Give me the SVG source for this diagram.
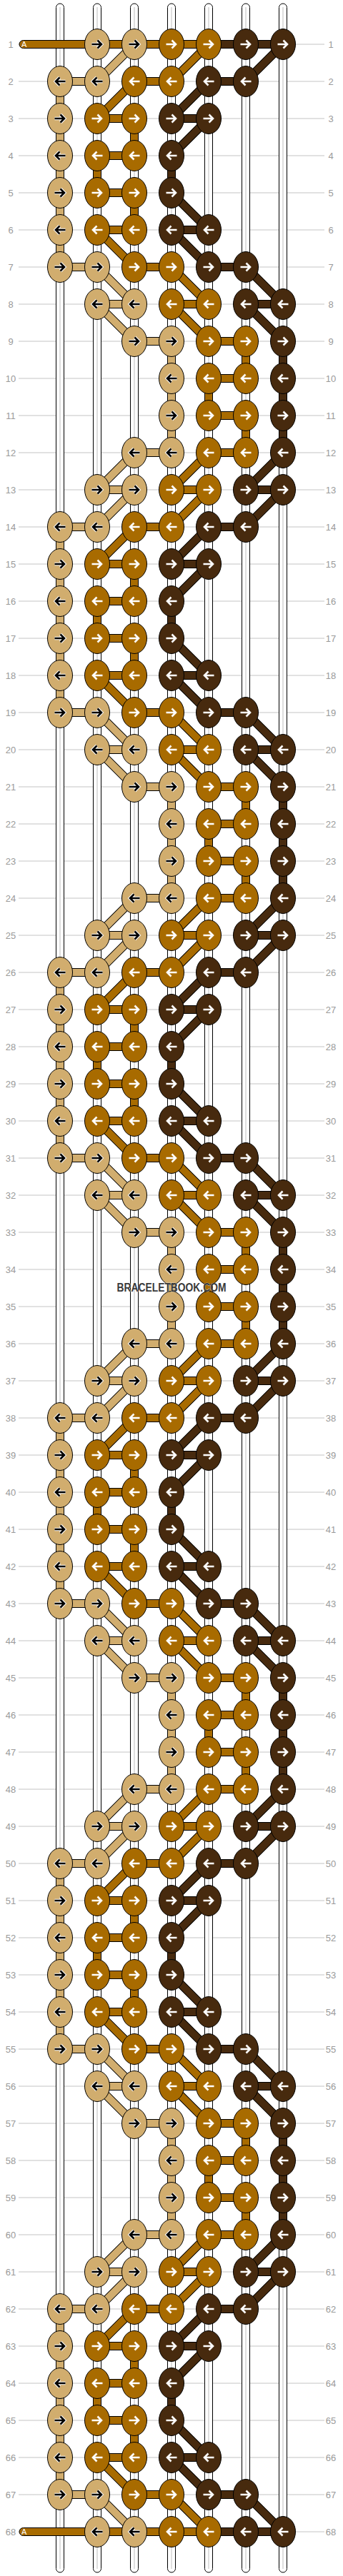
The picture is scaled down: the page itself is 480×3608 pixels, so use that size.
<svg xmlns="http://www.w3.org/2000/svg" width="480" height="3608" viewBox="0 0 480 3608">
<style>
.t{fill:#D1AD6E}.o{fill:#A86B00}.d{fill:#472A0E}
.lb{font-family:"Liberation Sans",Arial,sans-serif;font-size:13px;fill:#9a9a9a;text-anchor:middle}
</style>
<defs>
<path id="ar" d="M-7.5,0H5.5M0.5,-5.5L6,0L0.5,5.5"/>
<path id="al" d="M7.5,0H-5.5M-0.5,-5.5L-6,0L-0.5,5.5"/>
<g id="TR"><ellipse rx="17.5" ry="21.5" fill="#D1AD6E" stroke="#000"/><use href="#ar" fill="none" stroke="#fff" stroke-width="4.6"/><use href="#ar" fill="none" stroke="#000" stroke-width="2.6"/></g>
<g id="TL"><ellipse rx="17.5" ry="21.5" fill="#D1AD6E" stroke="#000"/><use href="#al" fill="none" stroke="#fff" stroke-width="4.6"/><use href="#al" fill="none" stroke="#000" stroke-width="2.6"/></g>
<g id="OR"><ellipse rx="17.5" ry="21.5" fill="#A86B00" stroke="#000"/><use href="#ar" fill="none" stroke="#fff" stroke-width="2.6"/></g>
<g id="OL"><ellipse rx="17.5" ry="21.5" fill="#A86B00" stroke="#000"/><use href="#al" fill="none" stroke="#fff" stroke-width="2.6"/></g>
<g id="DR"><ellipse rx="17.5" ry="21.5" fill="#472A0E" stroke="#000"/><use href="#ar" fill="none" stroke="#fff" stroke-width="2.6"/></g>
<g id="DL"><ellipse rx="17.5" ry="21.5" fill="#472A0E" stroke="#000"/><use href="#al" fill="none" stroke="#fff" stroke-width="2.6"/></g>
<rect id="h" y="-5.5" width="52" height="11"/>
<rect id="v" x="-5.5" width="11" height="52"/>
<rect id="dr" y="-5.5" width="73.5" height="11" transform="rotate(45)"/>
<rect id="dl" y="-5.5" width="73.5" height="11" transform="rotate(135)"/>
</defs>
<rect width="480" height="3608" fill="#fff"/>
<path id="rowlines" stroke="#c4c4c4" stroke-width="1" fill="none" d="M26,62H454M26,114H454M26,166H454M26,218H454M26,270H454M26,322H454M26,374H454M26,426H454M26,478H454M26,530H454M26,582H454M26,634H454M26,686H454M26,738H454M26,790H454M26,842H454M26,894H454M26,946H454M26,998H454M26,1050H454M26,1102H454M26,1154H454M26,1206H454M26,1258H454M26,1310H454M26,1362H454M26,1414H454M26,1466H454M26,1518H454M26,1570H454M26,1622H454M26,1674H454M26,1726H454M26,1778H454M26,1830H454M26,1882H454M26,1934H454M26,1986H454M26,2038H454M26,2090H454M26,2142H454M26,2194H454M26,2246H454M26,2298H454M26,2350H454M26,2402H454M26,2454H454M26,2506H454M26,2558H454M26,2610H454M26,2662H454M26,2714H454M26,2766H454M26,2818H454M26,2870H454M26,2922H454M26,2974H454M26,3026H454M26,3078H454M26,3130H454M26,3182H454M26,3234H454M26,3286H454M26,3338H454M26,3390H454M26,3442H454M26,3494H454M26,3546H454"/>
<g id="strings">
<g fill="#fff" stroke="#000">
<rect x="78.5" y="5" width="11" height="3598" rx="5.5"/>
<rect x="130.5" y="5" width="11" height="3598" rx="5.5"/>
<rect x="182.5" y="5" width="11" height="3598" rx="5.5"/>
<rect x="234.5" y="5" width="11" height="3598" rx="5.5"/>
<rect x="286.5" y="5" width="11" height="3598" rx="5.5"/>
<rect x="338.5" y="5" width="11" height="3598" rx="5.5"/>
<rect x="390.5" y="5" width="11" height="3598" rx="5.5"/>
</g>
<path stroke="#c8c8c8" stroke-width="1.2" d="M84,10V3598M136,10V3598M188,10V3598M240,10V3598M292,10V3598M344,10V3598M396,10V3598"/>
</g>
<g id="connectors" stroke="#000" stroke-width="1">
<rect x="27" y="56.5" width="109" height="11" rx="5.5" class="o"/>
<rect x="27" y="3540.5" width="109" height="11" rx="5.5" class="o"/>
<use href="#h" x="136" y="62" class="o"/><use href="#h" x="188" y="62" class="o"/><use href="#h" x="240" y="62" class="o"/><use href="#h" x="292" y="62" class="d"/><use href="#h" x="344" y="62" class="d"/><use href="#dl" x="188" y="62" class="t"/><use href="#dl" x="292" y="62" class="o"/><use href="#dl" x="396" y="62" class="d"/>
<use href="#h" x="84" y="114" class="t"/><use href="#h" x="188" y="114" class="o"/><use href="#h" x="292" y="114" class="d"/><use href="#v" x="84" y="114" class="t"/><use href="#dl" x="188" y="114" class="o"/><use href="#dl" x="292" y="114" class="d"/>
<use href="#h" x="136" y="166" class="o"/><use href="#h" x="240" y="166" class="d"/><use href="#v" x="84" y="166" class="t"/><use href="#v" x="188" y="166" class="o"/><use href="#dl" x="292" y="166" class="d"/>
<use href="#h" x="136" y="218" class="o"/><use href="#v" x="84" y="218" class="t"/><use href="#v" x="136" y="218" class="o"/><use href="#v" x="240" y="218" class="d"/>
<use href="#h" x="136" y="270" class="o"/><use href="#v" x="84" y="270" class="t"/><use href="#v" x="188" y="270" class="o"/><use href="#dr" x="240" y="270" class="d"/>
<use href="#h" x="136" y="322" class="o"/><use href="#h" x="240" y="322" class="d"/><use href="#v" x="84" y="322" class="t"/><use href="#dr" x="136" y="322" class="o"/><use href="#dr" x="240" y="322" class="d"/>
<use href="#h" x="84" y="374" class="t"/><use href="#h" x="188" y="374" class="o"/><use href="#h" x="292" y="374" class="d"/><use href="#dr" x="136" y="374" class="t"/><use href="#dr" x="240" y="374" class="o"/><use href="#dr" x="344" y="374" class="d"/>
<use href="#h" x="136" y="426" class="t"/><use href="#h" x="240" y="426" class="o"/><use href="#h" x="344" y="426" class="d"/><use href="#dr" x="136" y="426" class="t"/><use href="#dr" x="240" y="426" class="o"/><use href="#dr" x="344" y="426" class="d"/>
<use href="#h" x="188" y="478" class="t"/><use href="#h" x="292" y="478" class="o"/><use href="#v" x="240" y="478" class="t"/><use href="#v" x="344" y="478" class="o"/><use href="#v" x="396" y="478" class="d"/>
<use href="#h" x="292" y="530" class="o"/><use href="#v" x="240" y="530" class="t"/><use href="#v" x="292" y="530" class="o"/><use href="#v" x="396" y="530" class="d"/>
<use href="#h" x="292" y="582" class="o"/><use href="#v" x="240" y="582" class="t"/><use href="#v" x="344" y="582" class="o"/><use href="#v" x="396" y="582" class="d"/>
<use href="#h" x="188" y="634" class="t"/><use href="#h" x="292" y="634" class="o"/><use href="#dl" x="188" y="634" class="t"/><use href="#dl" x="292" y="634" class="o"/><use href="#dl" x="396" y="634" class="d"/>
<use href="#h" x="136" y="686" class="t"/><use href="#h" x="240" y="686" class="o"/><use href="#h" x="344" y="686" class="d"/><use href="#dl" x="188" y="686" class="t"/><use href="#dl" x="292" y="686" class="o"/><use href="#dl" x="396" y="686" class="d"/>
<use href="#h" x="84" y="738" class="t"/><use href="#h" x="188" y="738" class="o"/><use href="#h" x="292" y="738" class="d"/><use href="#v" x="84" y="738" class="t"/><use href="#dl" x="188" y="738" class="o"/><use href="#dl" x="292" y="738" class="d"/>
<use href="#h" x="136" y="790" class="o"/><use href="#h" x="240" y="790" class="d"/><use href="#v" x="84" y="790" class="t"/><use href="#v" x="188" y="790" class="o"/><use href="#dl" x="292" y="790" class="d"/>
<use href="#h" x="136" y="842" class="o"/><use href="#v" x="84" y="842" class="t"/><use href="#v" x="136" y="842" class="o"/><use href="#v" x="240" y="842" class="d"/>
<use href="#h" x="136" y="894" class="o"/><use href="#v" x="84" y="894" class="t"/><use href="#v" x="188" y="894" class="o"/><use href="#dr" x="240" y="894" class="d"/>
<use href="#h" x="136" y="946" class="o"/><use href="#h" x="240" y="946" class="d"/><use href="#v" x="84" y="946" class="t"/><use href="#dr" x="136" y="946" class="o"/><use href="#dr" x="240" y="946" class="d"/>
<use href="#h" x="84" y="998" class="t"/><use href="#h" x="188" y="998" class="o"/><use href="#h" x="292" y="998" class="d"/><use href="#dr" x="136" y="998" class="t"/><use href="#dr" x="240" y="998" class="o"/><use href="#dr" x="344" y="998" class="d"/>
<use href="#h" x="136" y="1050" class="t"/><use href="#h" x="240" y="1050" class="o"/><use href="#h" x="344" y="1050" class="d"/><use href="#dr" x="136" y="1050" class="t"/><use href="#dr" x="240" y="1050" class="o"/><use href="#dr" x="344" y="1050" class="d"/>
<use href="#h" x="188" y="1102" class="t"/><use href="#h" x="292" y="1102" class="o"/><use href="#v" x="240" y="1102" class="t"/><use href="#v" x="344" y="1102" class="o"/><use href="#v" x="396" y="1102" class="d"/>
<use href="#h" x="292" y="1154" class="o"/><use href="#v" x="240" y="1154" class="t"/><use href="#v" x="292" y="1154" class="o"/><use href="#v" x="396" y="1154" class="d"/>
<use href="#h" x="292" y="1206" class="o"/><use href="#v" x="240" y="1206" class="t"/><use href="#v" x="344" y="1206" class="o"/><use href="#v" x="396" y="1206" class="d"/>
<use href="#h" x="188" y="1258" class="t"/><use href="#h" x="292" y="1258" class="o"/><use href="#dl" x="188" y="1258" class="t"/><use href="#dl" x="292" y="1258" class="o"/><use href="#dl" x="396" y="1258" class="d"/>
<use href="#h" x="136" y="1310" class="t"/><use href="#h" x="240" y="1310" class="o"/><use href="#h" x="344" y="1310" class="d"/><use href="#dl" x="188" y="1310" class="t"/><use href="#dl" x="292" y="1310" class="o"/><use href="#dl" x="396" y="1310" class="d"/>
<use href="#h" x="84" y="1362" class="t"/><use href="#h" x="188" y="1362" class="o"/><use href="#h" x="292" y="1362" class="d"/><use href="#v" x="84" y="1362" class="t"/><use href="#dl" x="188" y="1362" class="o"/><use href="#dl" x="292" y="1362" class="d"/>
<use href="#h" x="136" y="1414" class="o"/><use href="#h" x="240" y="1414" class="d"/><use href="#v" x="84" y="1414" class="t"/><use href="#v" x="188" y="1414" class="o"/><use href="#dl" x="292" y="1414" class="d"/>
<use href="#h" x="136" y="1466" class="o"/><use href="#v" x="84" y="1466" class="t"/><use href="#v" x="136" y="1466" class="o"/><use href="#v" x="240" y="1466" class="d"/>
<use href="#h" x="136" y="1518" class="o"/><use href="#v" x="84" y="1518" class="t"/><use href="#v" x="188" y="1518" class="o"/><use href="#dr" x="240" y="1518" class="d"/>
<use href="#h" x="136" y="1570" class="o"/><use href="#h" x="240" y="1570" class="d"/><use href="#v" x="84" y="1570" class="t"/><use href="#dr" x="136" y="1570" class="o"/><use href="#dr" x="240" y="1570" class="d"/>
<use href="#h" x="84" y="1622" class="t"/><use href="#h" x="188" y="1622" class="o"/><use href="#h" x="292" y="1622" class="d"/><use href="#dr" x="136" y="1622" class="t"/><use href="#dr" x="240" y="1622" class="o"/><use href="#dr" x="344" y="1622" class="d"/>
<use href="#h" x="136" y="1674" class="t"/><use href="#h" x="240" y="1674" class="o"/><use href="#h" x="344" y="1674" class="d"/><use href="#dr" x="136" y="1674" class="t"/><use href="#dr" x="240" y="1674" class="o"/><use href="#dr" x="344" y="1674" class="d"/>
<use href="#h" x="188" y="1726" class="t"/><use href="#h" x="292" y="1726" class="o"/><use href="#v" x="240" y="1726" class="t"/><use href="#v" x="344" y="1726" class="o"/><use href="#v" x="396" y="1726" class="d"/>
<use href="#h" x="292" y="1778" class="o"/><use href="#v" x="240" y="1778" class="t"/><use href="#v" x="292" y="1778" class="o"/><use href="#v" x="396" y="1778" class="d"/>
<use href="#h" x="292" y="1830" class="o"/><use href="#v" x="240" y="1830" class="t"/><use href="#v" x="344" y="1830" class="o"/><use href="#v" x="396" y="1830" class="d"/>
<use href="#h" x="188" y="1882" class="t"/><use href="#h" x="292" y="1882" class="o"/><use href="#dl" x="188" y="1882" class="t"/><use href="#dl" x="292" y="1882" class="o"/><use href="#dl" x="396" y="1882" class="d"/>
<use href="#h" x="136" y="1934" class="t"/><use href="#h" x="240" y="1934" class="o"/><use href="#h" x="344" y="1934" class="d"/><use href="#dl" x="188" y="1934" class="t"/><use href="#dl" x="292" y="1934" class="o"/><use href="#dl" x="396" y="1934" class="d"/>
<use href="#h" x="84" y="1986" class="t"/><use href="#h" x="188" y="1986" class="o"/><use href="#h" x="292" y="1986" class="d"/><use href="#v" x="84" y="1986" class="t"/><use href="#dl" x="188" y="1986" class="o"/><use href="#dl" x="292" y="1986" class="d"/>
<use href="#h" x="136" y="2038" class="o"/><use href="#h" x="240" y="2038" class="d"/><use href="#v" x="84" y="2038" class="t"/><use href="#v" x="188" y="2038" class="o"/><use href="#dl" x="292" y="2038" class="d"/>
<use href="#h" x="136" y="2090" class="o"/><use href="#v" x="84" y="2090" class="t"/><use href="#v" x="136" y="2090" class="o"/><use href="#v" x="240" y="2090" class="d"/>
<use href="#h" x="136" y="2142" class="o"/><use href="#v" x="84" y="2142" class="t"/><use href="#v" x="188" y="2142" class="o"/><use href="#dr" x="240" y="2142" class="d"/>
<use href="#h" x="136" y="2194" class="o"/><use href="#h" x="240" y="2194" class="d"/><use href="#v" x="84" y="2194" class="t"/><use href="#dr" x="136" y="2194" class="o"/><use href="#dr" x="240" y="2194" class="d"/>
<use href="#h" x="84" y="2246" class="t"/><use href="#h" x="188" y="2246" class="o"/><use href="#h" x="292" y="2246" class="d"/><use href="#dr" x="136" y="2246" class="t"/><use href="#dr" x="240" y="2246" class="o"/><use href="#dr" x="344" y="2246" class="d"/>
<use href="#h" x="136" y="2298" class="t"/><use href="#h" x="240" y="2298" class="o"/><use href="#h" x="344" y="2298" class="d"/><use href="#dr" x="136" y="2298" class="t"/><use href="#dr" x="240" y="2298" class="o"/><use href="#dr" x="344" y="2298" class="d"/>
<use href="#h" x="188" y="2350" class="t"/><use href="#h" x="292" y="2350" class="o"/><use href="#v" x="240" y="2350" class="t"/><use href="#v" x="344" y="2350" class="o"/><use href="#v" x="396" y="2350" class="d"/>
<use href="#h" x="292" y="2402" class="o"/><use href="#v" x="240" y="2402" class="t"/><use href="#v" x="292" y="2402" class="o"/><use href="#v" x="396" y="2402" class="d"/>
<use href="#h" x="292" y="2454" class="o"/><use href="#v" x="240" y="2454" class="t"/><use href="#v" x="344" y="2454" class="o"/><use href="#v" x="396" y="2454" class="d"/>
<use href="#h" x="188" y="2506" class="t"/><use href="#h" x="292" y="2506" class="o"/><use href="#dl" x="188" y="2506" class="t"/><use href="#dl" x="292" y="2506" class="o"/><use href="#dl" x="396" y="2506" class="d"/>
<use href="#h" x="136" y="2558" class="t"/><use href="#h" x="240" y="2558" class="o"/><use href="#h" x="344" y="2558" class="d"/><use href="#dl" x="188" y="2558" class="t"/><use href="#dl" x="292" y="2558" class="o"/><use href="#dl" x="396" y="2558" class="d"/>
<use href="#h" x="84" y="2610" class="t"/><use href="#h" x="188" y="2610" class="o"/><use href="#h" x="292" y="2610" class="d"/><use href="#v" x="84" y="2610" class="t"/><use href="#dl" x="188" y="2610" class="o"/><use href="#dl" x="292" y="2610" class="d"/>
<use href="#h" x="136" y="2662" class="o"/><use href="#h" x="240" y="2662" class="d"/><use href="#v" x="84" y="2662" class="t"/><use href="#v" x="188" y="2662" class="o"/><use href="#dl" x="292" y="2662" class="d"/>
<use href="#h" x="136" y="2714" class="o"/><use href="#v" x="84" y="2714" class="t"/><use href="#v" x="136" y="2714" class="o"/><use href="#v" x="240" y="2714" class="d"/>
<use href="#h" x="136" y="2766" class="o"/><use href="#v" x="84" y="2766" class="t"/><use href="#v" x="188" y="2766" class="o"/><use href="#dr" x="240" y="2766" class="d"/>
<use href="#h" x="136" y="2818" class="o"/><use href="#h" x="240" y="2818" class="d"/><use href="#v" x="84" y="2818" class="t"/><use href="#dr" x="136" y="2818" class="o"/><use href="#dr" x="240" y="2818" class="d"/>
<use href="#h" x="84" y="2870" class="t"/><use href="#h" x="188" y="2870" class="o"/><use href="#h" x="292" y="2870" class="d"/><use href="#dr" x="136" y="2870" class="t"/><use href="#dr" x="240" y="2870" class="o"/><use href="#dr" x="344" y="2870" class="d"/>
<use href="#h" x="136" y="2922" class="t"/><use href="#h" x="240" y="2922" class="o"/><use href="#h" x="344" y="2922" class="d"/><use href="#dr" x="136" y="2922" class="t"/><use href="#dr" x="240" y="2922" class="o"/><use href="#dr" x="344" y="2922" class="d"/>
<use href="#h" x="188" y="2974" class="t"/><use href="#h" x="292" y="2974" class="o"/><use href="#v" x="240" y="2974" class="t"/><use href="#v" x="344" y="2974" class="o"/><use href="#v" x="396" y="2974" class="d"/>
<use href="#h" x="292" y="3026" class="o"/><use href="#v" x="240" y="3026" class="t"/><use href="#v" x="292" y="3026" class="o"/><use href="#v" x="396" y="3026" class="d"/>
<use href="#h" x="292" y="3078" class="o"/><use href="#v" x="240" y="3078" class="t"/><use href="#v" x="344" y="3078" class="o"/><use href="#v" x="396" y="3078" class="d"/>
<use href="#h" x="188" y="3130" class="t"/><use href="#h" x="292" y="3130" class="o"/><use href="#dl" x="188" y="3130" class="t"/><use href="#dl" x="292" y="3130" class="o"/><use href="#dl" x="396" y="3130" class="d"/>
<use href="#h" x="136" y="3182" class="t"/><use href="#h" x="240" y="3182" class="o"/><use href="#h" x="344" y="3182" class="d"/><use href="#dl" x="188" y="3182" class="t"/><use href="#dl" x="292" y="3182" class="o"/><use href="#dl" x="396" y="3182" class="d"/>
<use href="#h" x="84" y="3234" class="t"/><use href="#h" x="188" y="3234" class="o"/><use href="#h" x="292" y="3234" class="d"/><use href="#v" x="84" y="3234" class="t"/><use href="#dl" x="188" y="3234" class="o"/><use href="#dl" x="292" y="3234" class="d"/>
<use href="#h" x="136" y="3286" class="o"/><use href="#h" x="240" y="3286" class="d"/><use href="#v" x="84" y="3286" class="t"/><use href="#v" x="188" y="3286" class="o"/><use href="#dl" x="292" y="3286" class="d"/>
<use href="#h" x="136" y="3338" class="o"/><use href="#v" x="84" y="3338" class="t"/><use href="#v" x="136" y="3338" class="o"/><use href="#v" x="240" y="3338" class="d"/>
<use href="#h" x="136" y="3390" class="o"/><use href="#v" x="84" y="3390" class="t"/><use href="#v" x="188" y="3390" class="o"/><use href="#dr" x="240" y="3390" class="d"/>
<use href="#h" x="136" y="3442" class="o"/><use href="#h" x="240" y="3442" class="d"/><use href="#v" x="84" y="3442" class="t"/><use href="#dr" x="136" y="3442" class="o"/><use href="#dr" x="240" y="3442" class="d"/>
<use href="#h" x="84" y="3494" class="t"/><use href="#h" x="188" y="3494" class="o"/><use href="#h" x="292" y="3494" class="d"/><use href="#dr" x="136" y="3494" class="t"/><use href="#dr" x="240" y="3494" class="o"/><use href="#dr" x="344" y="3494" class="d"/>
<use href="#h" x="136" y="3546" class="o"/><use href="#h" x="188" y="3546" class="o"/><use href="#h" x="240" y="3546" class="o"/><use href="#h" x="292" y="3546" class="d"/><use href="#h" x="344" y="3546" class="d"/>
</g>
<g id="nodes">
<g id="n1-2"><use href="#TR" x="136" y="62"/></g><g id="n1-3"><use href="#TR" x="188" y="62"/></g><g id="n1-4"><use href="#OR" x="240" y="62"/></g><g id="n1-5"><use href="#OR" x="292" y="62"/></g><g id="n1-6"><use href="#DR" x="344" y="62"/></g><g id="n1-7"><use href="#DR" x="396" y="62"/></g>
<g id="n2-1"><use href="#TL" x="84" y="114"/></g><g id="n2-2"><use href="#TL" x="136" y="114"/></g><g id="n2-3"><use href="#OL" x="188" y="114"/></g><g id="n2-4"><use href="#OL" x="240" y="114"/></g><g id="n2-5"><use href="#DL" x="292" y="114"/></g><g id="n2-6"><use href="#DL" x="344" y="114"/></g>
<g id="n3-1"><use href="#TR" x="84" y="166"/></g><g id="n3-2"><use href="#OR" x="136" y="166"/></g><g id="n3-3"><use href="#OR" x="188" y="166"/></g><g id="n3-4"><use href="#DR" x="240" y="166"/></g><g id="n3-5"><use href="#DR" x="292" y="166"/></g>
<g id="n4-1"><use href="#TL" x="84" y="218"/></g><g id="n4-2"><use href="#OL" x="136" y="218"/></g><g id="n4-3"><use href="#OL" x="188" y="218"/></g><g id="n4-4"><use href="#DL" x="240" y="218"/></g>
<g id="n5-1"><use href="#TR" x="84" y="270"/></g><g id="n5-2"><use href="#OR" x="136" y="270"/></g><g id="n5-3"><use href="#OR" x="188" y="270"/></g><g id="n5-4"><use href="#DR" x="240" y="270"/></g>
<g id="n6-1"><use href="#TL" x="84" y="322"/></g><g id="n6-2"><use href="#OL" x="136" y="322"/></g><g id="n6-3"><use href="#OL" x="188" y="322"/></g><g id="n6-4"><use href="#DL" x="240" y="322"/></g><g id="n6-5"><use href="#DL" x="292" y="322"/></g>
<g id="n7-1"><use href="#TR" x="84" y="374"/></g><g id="n7-2"><use href="#TR" x="136" y="374"/></g><g id="n7-3"><use href="#OR" x="188" y="374"/></g><g id="n7-4"><use href="#OR" x="240" y="374"/></g><g id="n7-5"><use href="#DR" x="292" y="374"/></g><g id="n7-6"><use href="#DR" x="344" y="374"/></g>
<g id="n8-2"><use href="#TL" x="136" y="426"/></g><g id="n8-3"><use href="#TL" x="188" y="426"/></g><g id="n8-4"><use href="#OL" x="240" y="426"/></g><g id="n8-5"><use href="#OL" x="292" y="426"/></g><g id="n8-6"><use href="#DL" x="344" y="426"/></g><g id="n8-7"><use href="#DL" x="396" y="426"/></g>
<g id="n9-3"><use href="#TR" x="188" y="478"/></g><g id="n9-4"><use href="#TR" x="240" y="478"/></g><g id="n9-5"><use href="#OR" x="292" y="478"/></g><g id="n9-6"><use href="#OR" x="344" y="478"/></g><g id="n9-7"><use href="#DR" x="396" y="478"/></g>
<g id="n10-4"><use href="#TL" x="240" y="530"/></g><g id="n10-5"><use href="#OL" x="292" y="530"/></g><g id="n10-6"><use href="#OL" x="344" y="530"/></g><g id="n10-7"><use href="#DL" x="396" y="530"/></g>
<g id="n11-4"><use href="#TR" x="240" y="582"/></g><g id="n11-5"><use href="#OR" x="292" y="582"/></g><g id="n11-6"><use href="#OR" x="344" y="582"/></g><g id="n11-7"><use href="#DR" x="396" y="582"/></g>
<g id="n12-3"><use href="#TL" x="188" y="634"/></g><g id="n12-4"><use href="#TL" x="240" y="634"/></g><g id="n12-5"><use href="#OL" x="292" y="634"/></g><g id="n12-6"><use href="#OL" x="344" y="634"/></g><g id="n12-7"><use href="#DL" x="396" y="634"/></g>
<g id="n13-2"><use href="#TR" x="136" y="686"/></g><g id="n13-3"><use href="#TR" x="188" y="686"/></g><g id="n13-4"><use href="#OR" x="240" y="686"/></g><g id="n13-5"><use href="#OR" x="292" y="686"/></g><g id="n13-6"><use href="#DR" x="344" y="686"/></g><g id="n13-7"><use href="#DR" x="396" y="686"/></g>
<g id="n14-1"><use href="#TL" x="84" y="738"/></g><g id="n14-2"><use href="#TL" x="136" y="738"/></g><g id="n14-3"><use href="#OL" x="188" y="738"/></g><g id="n14-4"><use href="#OL" x="240" y="738"/></g><g id="n14-5"><use href="#DL" x="292" y="738"/></g><g id="n14-6"><use href="#DL" x="344" y="738"/></g>
<g id="n15-1"><use href="#TR" x="84" y="790"/></g><g id="n15-2"><use href="#OR" x="136" y="790"/></g><g id="n15-3"><use href="#OR" x="188" y="790"/></g><g id="n15-4"><use href="#DR" x="240" y="790"/></g><g id="n15-5"><use href="#DR" x="292" y="790"/></g>
<g id="n16-1"><use href="#TL" x="84" y="842"/></g><g id="n16-2"><use href="#OL" x="136" y="842"/></g><g id="n16-3"><use href="#OL" x="188" y="842"/></g><g id="n16-4"><use href="#DL" x="240" y="842"/></g>
<g id="n17-1"><use href="#TR" x="84" y="894"/></g><g id="n17-2"><use href="#OR" x="136" y="894"/></g><g id="n17-3"><use href="#OR" x="188" y="894"/></g><g id="n17-4"><use href="#DR" x="240" y="894"/></g>
<g id="n18-1"><use href="#TL" x="84" y="946"/></g><g id="n18-2"><use href="#OL" x="136" y="946"/></g><g id="n18-3"><use href="#OL" x="188" y="946"/></g><g id="n18-4"><use href="#DL" x="240" y="946"/></g><g id="n18-5"><use href="#DL" x="292" y="946"/></g>
<g id="n19-1"><use href="#TR" x="84" y="998"/></g><g id="n19-2"><use href="#TR" x="136" y="998"/></g><g id="n19-3"><use href="#OR" x="188" y="998"/></g><g id="n19-4"><use href="#OR" x="240" y="998"/></g><g id="n19-5"><use href="#DR" x="292" y="998"/></g><g id="n19-6"><use href="#DR" x="344" y="998"/></g>
<g id="n20-2"><use href="#TL" x="136" y="1050"/></g><g id="n20-3"><use href="#TL" x="188" y="1050"/></g><g id="n20-4"><use href="#OL" x="240" y="1050"/></g><g id="n20-5"><use href="#OL" x="292" y="1050"/></g><g id="n20-6"><use href="#DL" x="344" y="1050"/></g><g id="n20-7"><use href="#DL" x="396" y="1050"/></g>
<g id="n21-3"><use href="#TR" x="188" y="1102"/></g><g id="n21-4"><use href="#TR" x="240" y="1102"/></g><g id="n21-5"><use href="#OR" x="292" y="1102"/></g><g id="n21-6"><use href="#OR" x="344" y="1102"/></g><g id="n21-7"><use href="#DR" x="396" y="1102"/></g>
<g id="n22-4"><use href="#TL" x="240" y="1154"/></g><g id="n22-5"><use href="#OL" x="292" y="1154"/></g><g id="n22-6"><use href="#OL" x="344" y="1154"/></g><g id="n22-7"><use href="#DL" x="396" y="1154"/></g>
<g id="n23-4"><use href="#TR" x="240" y="1206"/></g><g id="n23-5"><use href="#OR" x="292" y="1206"/></g><g id="n23-6"><use href="#OR" x="344" y="1206"/></g><g id="n23-7"><use href="#DR" x="396" y="1206"/></g>
<g id="n24-3"><use href="#TL" x="188" y="1258"/></g><g id="n24-4"><use href="#TL" x="240" y="1258"/></g><g id="n24-5"><use href="#OL" x="292" y="1258"/></g><g id="n24-6"><use href="#OL" x="344" y="1258"/></g><g id="n24-7"><use href="#DL" x="396" y="1258"/></g>
<g id="n25-2"><use href="#TR" x="136" y="1310"/></g><g id="n25-3"><use href="#TR" x="188" y="1310"/></g><g id="n25-4"><use href="#OR" x="240" y="1310"/></g><g id="n25-5"><use href="#OR" x="292" y="1310"/></g><g id="n25-6"><use href="#DR" x="344" y="1310"/></g><g id="n25-7"><use href="#DR" x="396" y="1310"/></g>
<g id="n26-1"><use href="#TL" x="84" y="1362"/></g><g id="n26-2"><use href="#TL" x="136" y="1362"/></g><g id="n26-3"><use href="#OL" x="188" y="1362"/></g><g id="n26-4"><use href="#OL" x="240" y="1362"/></g><g id="n26-5"><use href="#DL" x="292" y="1362"/></g><g id="n26-6"><use href="#DL" x="344" y="1362"/></g>
<g id="n27-1"><use href="#TR" x="84" y="1414"/></g><g id="n27-2"><use href="#OR" x="136" y="1414"/></g><g id="n27-3"><use href="#OR" x="188" y="1414"/></g><g id="n27-4"><use href="#DR" x="240" y="1414"/></g><g id="n27-5"><use href="#DR" x="292" y="1414"/></g>
<g id="n28-1"><use href="#TL" x="84" y="1466"/></g><g id="n28-2"><use href="#OL" x="136" y="1466"/></g><g id="n28-3"><use href="#OL" x="188" y="1466"/></g><g id="n28-4"><use href="#DL" x="240" y="1466"/></g>
<g id="n29-1"><use href="#TR" x="84" y="1518"/></g><g id="n29-2"><use href="#OR" x="136" y="1518"/></g><g id="n29-3"><use href="#OR" x="188" y="1518"/></g><g id="n29-4"><use href="#DR" x="240" y="1518"/></g>
<g id="n30-1"><use href="#TL" x="84" y="1570"/></g><g id="n30-2"><use href="#OL" x="136" y="1570"/></g><g id="n30-3"><use href="#OL" x="188" y="1570"/></g><g id="n30-4"><use href="#DL" x="240" y="1570"/></g><g id="n30-5"><use href="#DL" x="292" y="1570"/></g>
<g id="n31-1"><use href="#TR" x="84" y="1622"/></g><g id="n31-2"><use href="#TR" x="136" y="1622"/></g><g id="n31-3"><use href="#OR" x="188" y="1622"/></g><g id="n31-4"><use href="#OR" x="240" y="1622"/></g><g id="n31-5"><use href="#DR" x="292" y="1622"/></g><g id="n31-6"><use href="#DR" x="344" y="1622"/></g>
<g id="n32-2"><use href="#TL" x="136" y="1674"/></g><g id="n32-3"><use href="#TL" x="188" y="1674"/></g><g id="n32-4"><use href="#OL" x="240" y="1674"/></g><g id="n32-5"><use href="#OL" x="292" y="1674"/></g><g id="n32-6"><use href="#DL" x="344" y="1674"/></g><g id="n32-7"><use href="#DL" x="396" y="1674"/></g>
<g id="n33-3"><use href="#TR" x="188" y="1726"/></g><g id="n33-4"><use href="#TR" x="240" y="1726"/></g><g id="n33-5"><use href="#OR" x="292" y="1726"/></g><g id="n33-6"><use href="#OR" x="344" y="1726"/></g><g id="n33-7"><use href="#DR" x="396" y="1726"/></g>
<g id="n34-4"><use href="#TL" x="240" y="1778"/></g><g id="n34-5"><use href="#OL" x="292" y="1778"/></g><g id="n34-6"><use href="#OL" x="344" y="1778"/></g><g id="n34-7"><use href="#DL" x="396" y="1778"/></g>
<g id="n35-4"><use href="#TR" x="240" y="1830"/></g><g id="n35-5"><use href="#OR" x="292" y="1830"/></g><g id="n35-6"><use href="#OR" x="344" y="1830"/></g><g id="n35-7"><use href="#DR" x="396" y="1830"/></g>
<g id="n36-3"><use href="#TL" x="188" y="1882"/></g><g id="n36-4"><use href="#TL" x="240" y="1882"/></g><g id="n36-5"><use href="#OL" x="292" y="1882"/></g><g id="n36-6"><use href="#OL" x="344" y="1882"/></g><g id="n36-7"><use href="#DL" x="396" y="1882"/></g>
<g id="n37-2"><use href="#TR" x="136" y="1934"/></g><g id="n37-3"><use href="#TR" x="188" y="1934"/></g><g id="n37-4"><use href="#OR" x="240" y="1934"/></g><g id="n37-5"><use href="#OR" x="292" y="1934"/></g><g id="n37-6"><use href="#DR" x="344" y="1934"/></g><g id="n37-7"><use href="#DR" x="396" y="1934"/></g>
<g id="n38-1"><use href="#TL" x="84" y="1986"/></g><g id="n38-2"><use href="#TL" x="136" y="1986"/></g><g id="n38-3"><use href="#OL" x="188" y="1986"/></g><g id="n38-4"><use href="#OL" x="240" y="1986"/></g><g id="n38-5"><use href="#DL" x="292" y="1986"/></g><g id="n38-6"><use href="#DL" x="344" y="1986"/></g>
<g id="n39-1"><use href="#TR" x="84" y="2038"/></g><g id="n39-2"><use href="#OR" x="136" y="2038"/></g><g id="n39-3"><use href="#OR" x="188" y="2038"/></g><g id="n39-4"><use href="#DR" x="240" y="2038"/></g><g id="n39-5"><use href="#DR" x="292" y="2038"/></g>
<g id="n40-1"><use href="#TL" x="84" y="2090"/></g><g id="n40-2"><use href="#OL" x="136" y="2090"/></g><g id="n40-3"><use href="#OL" x="188" y="2090"/></g><g id="n40-4"><use href="#DL" x="240" y="2090"/></g>
<g id="n41-1"><use href="#TR" x="84" y="2142"/></g><g id="n41-2"><use href="#OR" x="136" y="2142"/></g><g id="n41-3"><use href="#OR" x="188" y="2142"/></g><g id="n41-4"><use href="#DR" x="240" y="2142"/></g>
<g id="n42-1"><use href="#TL" x="84" y="2194"/></g><g id="n42-2"><use href="#OL" x="136" y="2194"/></g><g id="n42-3"><use href="#OL" x="188" y="2194"/></g><g id="n42-4"><use href="#DL" x="240" y="2194"/></g><g id="n42-5"><use href="#DL" x="292" y="2194"/></g>
<g id="n43-1"><use href="#TR" x="84" y="2246"/></g><g id="n43-2"><use href="#TR" x="136" y="2246"/></g><g id="n43-3"><use href="#OR" x="188" y="2246"/></g><g id="n43-4"><use href="#OR" x="240" y="2246"/></g><g id="n43-5"><use href="#DR" x="292" y="2246"/></g><g id="n43-6"><use href="#DR" x="344" y="2246"/></g>
<g id="n44-2"><use href="#TL" x="136" y="2298"/></g><g id="n44-3"><use href="#TL" x="188" y="2298"/></g><g id="n44-4"><use href="#OL" x="240" y="2298"/></g><g id="n44-5"><use href="#OL" x="292" y="2298"/></g><g id="n44-6"><use href="#DL" x="344" y="2298"/></g><g id="n44-7"><use href="#DL" x="396" y="2298"/></g>
<g id="n45-3"><use href="#TR" x="188" y="2350"/></g><g id="n45-4"><use href="#TR" x="240" y="2350"/></g><g id="n45-5"><use href="#OR" x="292" y="2350"/></g><g id="n45-6"><use href="#OR" x="344" y="2350"/></g><g id="n45-7"><use href="#DR" x="396" y="2350"/></g>
<g id="n46-4"><use href="#TL" x="240" y="2402"/></g><g id="n46-5"><use href="#OL" x="292" y="2402"/></g><g id="n46-6"><use href="#OL" x="344" y="2402"/></g><g id="n46-7"><use href="#DL" x="396" y="2402"/></g>
<g id="n47-4"><use href="#TR" x="240" y="2454"/></g><g id="n47-5"><use href="#OR" x="292" y="2454"/></g><g id="n47-6"><use href="#OR" x="344" y="2454"/></g><g id="n47-7"><use href="#DR" x="396" y="2454"/></g>
<g id="n48-3"><use href="#TL" x="188" y="2506"/></g><g id="n48-4"><use href="#TL" x="240" y="2506"/></g><g id="n48-5"><use href="#OL" x="292" y="2506"/></g><g id="n48-6"><use href="#OL" x="344" y="2506"/></g><g id="n48-7"><use href="#DL" x="396" y="2506"/></g>
<g id="n49-2"><use href="#TR" x="136" y="2558"/></g><g id="n49-3"><use href="#TR" x="188" y="2558"/></g><g id="n49-4"><use href="#OR" x="240" y="2558"/></g><g id="n49-5"><use href="#OR" x="292" y="2558"/></g><g id="n49-6"><use href="#DR" x="344" y="2558"/></g><g id="n49-7"><use href="#DR" x="396" y="2558"/></g>
<g id="n50-1"><use href="#TL" x="84" y="2610"/></g><g id="n50-2"><use href="#TL" x="136" y="2610"/></g><g id="n50-3"><use href="#OL" x="188" y="2610"/></g><g id="n50-4"><use href="#OL" x="240" y="2610"/></g><g id="n50-5"><use href="#DL" x="292" y="2610"/></g><g id="n50-6"><use href="#DL" x="344" y="2610"/></g>
<g id="n51-1"><use href="#TR" x="84" y="2662"/></g><g id="n51-2"><use href="#OR" x="136" y="2662"/></g><g id="n51-3"><use href="#OR" x="188" y="2662"/></g><g id="n51-4"><use href="#DR" x="240" y="2662"/></g><g id="n51-5"><use href="#DR" x="292" y="2662"/></g>
<g id="n52-1"><use href="#TL" x="84" y="2714"/></g><g id="n52-2"><use href="#OL" x="136" y="2714"/></g><g id="n52-3"><use href="#OL" x="188" y="2714"/></g><g id="n52-4"><use href="#DL" x="240" y="2714"/></g>
<g id="n53-1"><use href="#TR" x="84" y="2766"/></g><g id="n53-2"><use href="#OR" x="136" y="2766"/></g><g id="n53-3"><use href="#OR" x="188" y="2766"/></g><g id="n53-4"><use href="#DR" x="240" y="2766"/></g>
<g id="n54-1"><use href="#TL" x="84" y="2818"/></g><g id="n54-2"><use href="#OL" x="136" y="2818"/></g><g id="n54-3"><use href="#OL" x="188" y="2818"/></g><g id="n54-4"><use href="#DL" x="240" y="2818"/></g><g id="n54-5"><use href="#DL" x="292" y="2818"/></g>
<g id="n55-1"><use href="#TR" x="84" y="2870"/></g><g id="n55-2"><use href="#TR" x="136" y="2870"/></g><g id="n55-3"><use href="#OR" x="188" y="2870"/></g><g id="n55-4"><use href="#OR" x="240" y="2870"/></g><g id="n55-5"><use href="#DR" x="292" y="2870"/></g><g id="n55-6"><use href="#DR" x="344" y="2870"/></g>
<g id="n56-2"><use href="#TL" x="136" y="2922"/></g><g id="n56-3"><use href="#TL" x="188" y="2922"/></g><g id="n56-4"><use href="#OL" x="240" y="2922"/></g><g id="n56-5"><use href="#OL" x="292" y="2922"/></g><g id="n56-6"><use href="#DL" x="344" y="2922"/></g><g id="n56-7"><use href="#DL" x="396" y="2922"/></g>
<g id="n57-3"><use href="#TR" x="188" y="2974"/></g><g id="n57-4"><use href="#TR" x="240" y="2974"/></g><g id="n57-5"><use href="#OR" x="292" y="2974"/></g><g id="n57-6"><use href="#OR" x="344" y="2974"/></g><g id="n57-7"><use href="#DR" x="396" y="2974"/></g>
<g id="n58-4"><use href="#TL" x="240" y="3026"/></g><g id="n58-5"><use href="#OL" x="292" y="3026"/></g><g id="n58-6"><use href="#OL" x="344" y="3026"/></g><g id="n58-7"><use href="#DL" x="396" y="3026"/></g>
<g id="n59-4"><use href="#TR" x="240" y="3078"/></g><g id="n59-5"><use href="#OR" x="292" y="3078"/></g><g id="n59-6"><use href="#OR" x="344" y="3078"/></g><g id="n59-7"><use href="#DR" x="396" y="3078"/></g>
<g id="n60-3"><use href="#TL" x="188" y="3130"/></g><g id="n60-4"><use href="#TL" x="240" y="3130"/></g><g id="n60-5"><use href="#OL" x="292" y="3130"/></g><g id="n60-6"><use href="#OL" x="344" y="3130"/></g><g id="n60-7"><use href="#DL" x="396" y="3130"/></g>
<g id="n61-2"><use href="#TR" x="136" y="3182"/></g><g id="n61-3"><use href="#TR" x="188" y="3182"/></g><g id="n61-4"><use href="#OR" x="240" y="3182"/></g><g id="n61-5"><use href="#OR" x="292" y="3182"/></g><g id="n61-6"><use href="#DR" x="344" y="3182"/></g><g id="n61-7"><use href="#DR" x="396" y="3182"/></g>
<g id="n62-1"><use href="#TL" x="84" y="3234"/></g><g id="n62-2"><use href="#TL" x="136" y="3234"/></g><g id="n62-3"><use href="#OL" x="188" y="3234"/></g><g id="n62-4"><use href="#OL" x="240" y="3234"/></g><g id="n62-5"><use href="#DL" x="292" y="3234"/></g><g id="n62-6"><use href="#DL" x="344" y="3234"/></g>
<g id="n63-1"><use href="#TR" x="84" y="3286"/></g><g id="n63-2"><use href="#OR" x="136" y="3286"/></g><g id="n63-3"><use href="#OR" x="188" y="3286"/></g><g id="n63-4"><use href="#DR" x="240" y="3286"/></g><g id="n63-5"><use href="#DR" x="292" y="3286"/></g>
<g id="n64-1"><use href="#TL" x="84" y="3338"/></g><g id="n64-2"><use href="#OL" x="136" y="3338"/></g><g id="n64-3"><use href="#OL" x="188" y="3338"/></g><g id="n64-4"><use href="#DL" x="240" y="3338"/></g>
<g id="n65-1"><use href="#TR" x="84" y="3390"/></g><g id="n65-2"><use href="#OR" x="136" y="3390"/></g><g id="n65-3"><use href="#OR" x="188" y="3390"/></g><g id="n65-4"><use href="#DR" x="240" y="3390"/></g>
<g id="n66-1"><use href="#TL" x="84" y="3442"/></g><g id="n66-2"><use href="#OL" x="136" y="3442"/></g><g id="n66-3"><use href="#OL" x="188" y="3442"/></g><g id="n66-4"><use href="#DL" x="240" y="3442"/></g><g id="n66-5"><use href="#DL" x="292" y="3442"/></g>
<g id="n67-1"><use href="#TR" x="84" y="3494"/></g><g id="n67-2"><use href="#TR" x="136" y="3494"/></g><g id="n67-3"><use href="#OR" x="188" y="3494"/></g><g id="n67-4"><use href="#OR" x="240" y="3494"/></g><g id="n67-5"><use href="#DR" x="292" y="3494"/></g><g id="n67-6"><use href="#DR" x="344" y="3494"/></g>
<g id="n68-2"><use href="#TL" x="136" y="3546"/></g><g id="n68-3"><use href="#TL" x="188" y="3546"/></g><g id="n68-4"><use href="#OL" x="240" y="3546"/></g><g id="n68-5"><use href="#OL" x="292" y="3546"/></g><g id="n68-6"><use href="#DL" x="344" y="3546"/></g><g id="n68-7"><use href="#DL" x="396" y="3546"/></g>
</g>
<g id="thread-labels" font-family="Liberation Sans, Arial, sans-serif" font-size="11" fill="#fff">
<text x="30" y="66">A</text>
<text x="30" y="3550">A</text>
</g>
<g id="row-labels" class="lb">
<text x="15" y="67">1</text><text x="463" y="67">1</text>
<text x="15" y="119">2</text><text x="463" y="119">2</text>
<text x="15" y="171">3</text><text x="463" y="171">3</text>
<text x="15" y="223">4</text><text x="463" y="223">4</text>
<text x="15" y="275">5</text><text x="463" y="275">5</text>
<text x="15" y="327">6</text><text x="463" y="327">6</text>
<text x="15" y="379">7</text><text x="463" y="379">7</text>
<text x="15" y="431">8</text><text x="463" y="431">8</text>
<text x="15" y="483">9</text><text x="463" y="483">9</text>
<text x="15" y="535">10</text><text x="463" y="535">10</text>
<text x="15" y="587">11</text><text x="463" y="587">11</text>
<text x="15" y="639">12</text><text x="463" y="639">12</text>
<text x="15" y="691">13</text><text x="463" y="691">13</text>
<text x="15" y="743">14</text><text x="463" y="743">14</text>
<text x="15" y="795">15</text><text x="463" y="795">15</text>
<text x="15" y="847">16</text><text x="463" y="847">16</text>
<text x="15" y="899">17</text><text x="463" y="899">17</text>
<text x="15" y="951">18</text><text x="463" y="951">18</text>
<text x="15" y="1003">19</text><text x="463" y="1003">19</text>
<text x="15" y="1055">20</text><text x="463" y="1055">20</text>
<text x="15" y="1107">21</text><text x="463" y="1107">21</text>
<text x="15" y="1159">22</text><text x="463" y="1159">22</text>
<text x="15" y="1211">23</text><text x="463" y="1211">23</text>
<text x="15" y="1263">24</text><text x="463" y="1263">24</text>
<text x="15" y="1315">25</text><text x="463" y="1315">25</text>
<text x="15" y="1367">26</text><text x="463" y="1367">26</text>
<text x="15" y="1419">27</text><text x="463" y="1419">27</text>
<text x="15" y="1471">28</text><text x="463" y="1471">28</text>
<text x="15" y="1523">29</text><text x="463" y="1523">29</text>
<text x="15" y="1575">30</text><text x="463" y="1575">30</text>
<text x="15" y="1627">31</text><text x="463" y="1627">31</text>
<text x="15" y="1679">32</text><text x="463" y="1679">32</text>
<text x="15" y="1731">33</text><text x="463" y="1731">33</text>
<text x="15" y="1783">34</text><text x="463" y="1783">34</text>
<text x="15" y="1835">35</text><text x="463" y="1835">35</text>
<text x="15" y="1887">36</text><text x="463" y="1887">36</text>
<text x="15" y="1939">37</text><text x="463" y="1939">37</text>
<text x="15" y="1991">38</text><text x="463" y="1991">38</text>
<text x="15" y="2043">39</text><text x="463" y="2043">39</text>
<text x="15" y="2095">40</text><text x="463" y="2095">40</text>
<text x="15" y="2147">41</text><text x="463" y="2147">41</text>
<text x="15" y="2199">42</text><text x="463" y="2199">42</text>
<text x="15" y="2251">43</text><text x="463" y="2251">43</text>
<text x="15" y="2303">44</text><text x="463" y="2303">44</text>
<text x="15" y="2355">45</text><text x="463" y="2355">45</text>
<text x="15" y="2407">46</text><text x="463" y="2407">46</text>
<text x="15" y="2459">47</text><text x="463" y="2459">47</text>
<text x="15" y="2511">48</text><text x="463" y="2511">48</text>
<text x="15" y="2563">49</text><text x="463" y="2563">49</text>
<text x="15" y="2615">50</text><text x="463" y="2615">50</text>
<text x="15" y="2667">51</text><text x="463" y="2667">51</text>
<text x="15" y="2719">52</text><text x="463" y="2719">52</text>
<text x="15" y="2771">53</text><text x="463" y="2771">53</text>
<text x="15" y="2823">54</text><text x="463" y="2823">54</text>
<text x="15" y="2875">55</text><text x="463" y="2875">55</text>
<text x="15" y="2927">56</text><text x="463" y="2927">56</text>
<text x="15" y="2979">57</text><text x="463" y="2979">57</text>
<text x="15" y="3031">58</text><text x="463" y="3031">58</text>
<text x="15" y="3083">59</text><text x="463" y="3083">59</text>
<text x="15" y="3135">60</text><text x="463" y="3135">60</text>
<text x="15" y="3187">61</text><text x="463" y="3187">61</text>
<text x="15" y="3239">62</text><text x="463" y="3239">62</text>
<text x="15" y="3291">63</text><text x="463" y="3291">63</text>
<text x="15" y="3343">64</text><text x="463" y="3343">64</text>
<text x="15" y="3395">65</text><text x="463" y="3395">65</text>
<text x="15" y="3447">66</text><text x="463" y="3447">66</text>
<text x="15" y="3499">67</text><text x="463" y="3499">67</text>
<text x="15" y="3551">68</text><text x="463" y="3551">68</text>
</g>
<text id="watermark" x="240" y="1809" text-anchor="middle" font-family="Liberation Sans, Arial, sans-serif" font-weight="bold" font-size="16" fill="#3a3a3a" stroke="#fff" stroke-width="0.6" paint-order="stroke" textLength="153" lengthAdjust="spacingAndGlyphs">BRACELETBOOK.COM</text>
</svg>
